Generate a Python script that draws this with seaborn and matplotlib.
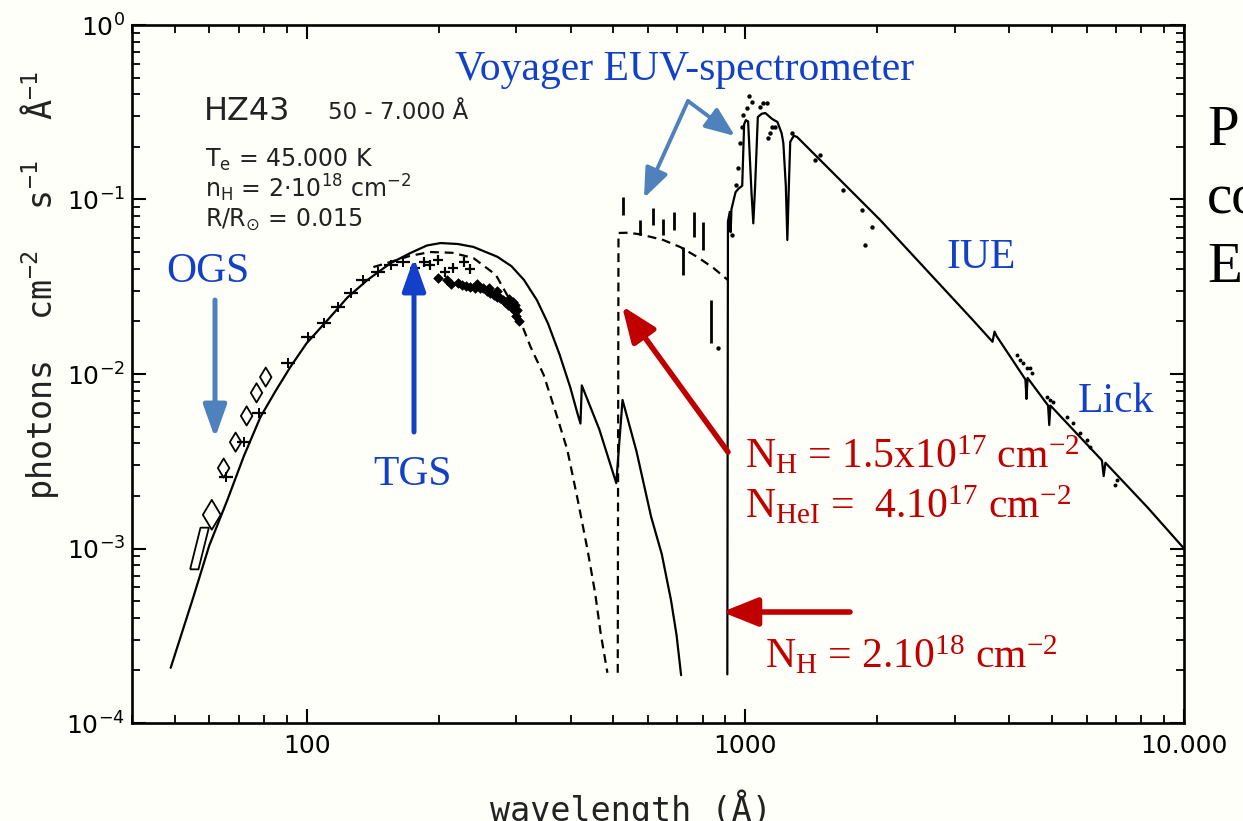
import matplotlib
matplotlib.use("Agg")
import matplotlib.pyplot as plt
import seaborn as sns
import pandas as pd
from matplotlib.patches import FancyArrowPatch
from matplotlib.ticker import FixedLocator, FixedFormatter, LogLocator, NullFormatter

# ---------------- data ----------------
# solid model, short-wavelength part (Angstrom, photons cm-2 s-1 A-1)
solid_euv_wl = [49, 55.2, 60, 66, 72, 78.5, 85, 91.9, 100, 111.7, 124, 137.7,
                155, 172.6, 188, 202, 221, 240, 272, 293, 313, 335, 355, 377,
                399, 414, 421, 424, 465, 508, 525, 565, 610, 645, 677, 697, 714]
solid_euv_f = [2.07e-4, 5.27e-4, 1.04e-3, 1.9e-3, 3.4e-3, 5.67e-3, 8.0e-3, 1.10e-2,
               1.5e-2, 2.04e-2, 2.75e-2, 3.46e-2, 4.3e-2, 4.94e-2, 5.45e-2, 5.63e-2,
               5.56e-2, 5.35e-2, 4.7e-2, 4.15e-2, 3.46e-2, 2.65e-2, 1.95e-2, 1.3e-2,
               8.4e-3, 6.0e-3, 5.2e-3, 8.6e-3, 4.8e-3, 2.37e-3, 7.1e-3, 3.6e-3,
               1.52e-3, 9.3e-4, 5.07e-4, 3.2e-4, 1.88e-4]

# solid model, long-wavelength part
solid_uv_wl = [910, 913, 922, 926, 930, 950, 964, 984, 994, 1003, 1015, 1033, 1043,
               1053, 1068, 1090, 1111, 1150, 1184, 1210, 1221, 1237, 1247, 1257,
               1266, 1290, 1313, 2030, 3300, 3660, 3700, 3740, 4350, 4375, 4400,
               4900, 4930, 4960, 6500, 6560, 6620, 8240, 10000]
solid_uv_f = [1.9e-4, 7.5e-2, 8.5e-2, 6.5e-2, 8.8e-2, 0.11, 0.115, 0.12, 0.27, 0.285,
              0.28, 0.11, 0.073, 0.12, 0.297, 0.31, 0.313, 0.29, 0.278, 0.24, 0.211,
              0.12, 0.0586, 0.12, 0.214, 0.232, 0.228, 0.0763, 0.0204, 0.0153,
              0.0175, 0.0165, 0.0093, 0.0072, 0.0095, 0.0066, 0.0051, 0.0066,
              0.0032, 0.0026, 0.0031, 0.00173, 0.00100]

# dashed model (N_H = 1.5e17, N_HeI = 4e17)
dashed_a_wl = [142, 155, 172, 191, 215, 240, 270, 302, 324, 347, 370, 393, 415,
               437, 455, 468, 478, 485]
dashed_a_f = [4.1e-2, 4.38e-2, 4.75e-2, 5.0e-2, 4.95e-2, 4.62e-2, 3.7e-2, 2.24e-2,
              1.43e-2, 9.9e-3, 6.0e-3, 3.67e-3, 1.9e-3, 9.8e-4, 5.5e-4, 3.28e-4,
              2.4e-4, 1.94e-4]
dashed_b_wl = [512, 514, 540, 570, 610, 650, 711, 778, 846, 912]
dashed_b_f = [1.94e-4, 6.43e-2, 6.45e-2, 6.34e-2, 6.1e-2, 5.86e-2, 5.34e-2,
              4.68e-2, 4.05e-2, 3.46e-2]

# OGS (open diamonds) and the large OGS error box
ogs_wl = [80.7, 76.9, 73.0, 68.9, 64.7, 60.8]
ogs_f = [9.6e-3, 7.8e-3, 5.75e-3, 4.07e-3, 2.89e-3, 1.56e-3]
ogs_box_wl = [57.0]
ogs_box_f = [1.0e-3]

# grating points with error bars along the rising flank
flank_wl = [65.4, 71.9, 77.7, 90.6, 100.5, 109.3, 117.7, 126, 134.8, 145.3, 155.4, 166.3]
flank_f = [2.57e-3, 4.07e-3, 5.98e-3, 1.16e-2, 1.63e-2, 1.96e-2, 2.42e-2, 2.91e-2,
           3.46e-2, 3.84e-2, 4.21e-2, 4.38e-2]

# TGS points
tgs_plus_wl = [177, 185, 191, 199, 207, 216, 228, 236]
tgs_plus_f = [4.05e-2, 4.38e-2, 4.21e-2, 4.5e-2, 3.84e-2, 4.05e-2, 4.38e-2, 4.0e-2]
tgs_band_wl = [199, 209, 213, 221, 226, 231, 236, 242, 245, 248, 253, 258, 260, 262,
               267, 271, 272, 276, 281, 284, 288, 290, 292, 296, 296, 298, 299, 300,
               302, 305]
tgs_band_f = [3.55e-2, 3.46e-2, 3.3e-2, 3.32e-2, 3.25e-2, 3.18e-2, 3.15e-2, 3.12e-2,
              3.3e-2, 3.1e-2, 3.11e-2, 2.98e-2, 3.1e-2, 2.92e-2, 2.84e-2, 2.78e-2,
              3.0e-2, 2.72e-2, 2.65e-2, 2.58e-2, 2.5e-2, 2.7e-2, 2.42e-2, 2.38e-2,
              2.6e-2, 2.5e-2, 2.3e-2, 2.15e-2, 2.33e-2, 2.0e-2]

# Voyager EUV spectrometer bars
voy_wl = [527, 574, 617, 650, 689, 723, 762, 802, 837]
voy_lo = [0.0815, 0.0626, 0.0718, 0.0626, 0.0669, 0.0369, 0.061, 0.0514, 0.0151]
voy_hi = [0.1036, 0.0763, 0.0894, 0.0776, 0.0848, 0.0534, 0.0848, 0.0743, 0.0265]

# IUE / Voyager dots
iue_wl = [868, 934, 954, 964, 974, 984, 989, 1011, 1021, 1038, 1081, 1099, 1122,
          1128, 1140, 1152, 1169, 1279, 1443, 1482, 1672, 1847, 1876, 1945]
iue_f = [0.0141, 0.0626, 0.121, 0.152, 0.211, 0.260, 0.305, 0.334, 0.392, 0.362,
         0.339, 0.357, 0.357, 0.225, 0.240, 0.260, 0.260, 0.240, 0.168, 0.180,
         0.113, 0.0871, 0.0549, 0.0696]

# Lick dots
lick_wl = [4165, 4230, 4296, 4387, 4457, 4503, 4872, 4950, 5030, 5410, 5585, 5794,
           6010, 6105, 6963, 7036]
lick_f = [0.01285, 0.0120, 0.01156, 0.0108, 0.0108, 0.01013, 0.00738, 0.0071,
          0.00691, 0.00567, 0.00524, 0.00459, 0.00419, 0.00382, 0.00231, 0.00247]

y_ticks = [1e-4, 1e-3, 1e-2, 1e-1, 1e0]
y_ticklabels = [r"$10^{-4}$", r"$10^{-3}$", r"$10^{-2}$", r"$10^{-1}$", r"$10^{0}$"]
x_ticks = [100, 1000, 10000]
x_ticklabels = ["100", "1000", "10.000"]

# ---------------- style ----------------
sns.set_theme(style="ticks")
plt.rcParams["font.family"] = ["DejaVu Sans"]
plt.rcParams["mathtext.default"] = "regular"
plt.rcParams["text.color"] = "black"
plt.rcParams["xtick.color"] = "black"
plt.rcParams["ytick.color"] = "black"
plt.rcParams["xtick.labelcolor"] = "black"
plt.rcParams["ytick.labelcolor"] = "black"

W, H = 1243, 821
BG = "#fffffa"
fig = plt.figure(figsize=(W / 100, H / 100), dpi=100, facecolor=BG)
ax = fig.add_axes([132 / W, 1 - 723 / H, (1184 - 132) / W, (723 - 25) / H])
ax.set_facecolor(BG)
ax.set_xscale("log")
ax.set_yscale("log")


def fx(px):
    return px / W


def fy(py):
    return 1 - py / H


LW = 1.6
sns.lineplot(x=solid_euv_wl, y=solid_euv_f, sort=False, estimator=None,
             color="black", lw=LW, ax=ax)
sns.lineplot(x=solid_uv_wl, y=solid_uv_f, sort=False, estimator=None,
             color="black", lw=LW, ax=ax)
sns.lineplot(x=dashed_a_wl, y=dashed_a_f, sort=False, estimator=None,
             color="black", lw=LW, linestyle=(0, (4, 2.6)), ax=ax)
sns.lineplot(x=dashed_b_wl, y=dashed_b_f, sort=False, estimator=None,
             color="black", lw=LW, linestyle=(0, (4, 2.6)), ax=ax)

# OGS diamonds
ogs_sizes = [95, 95, 95, 95, 95, 230]
sns.scatterplot(x=ogs_wl, y=ogs_f, marker="d", s=ogs_sizes, color="black",
                facecolor="none", edgecolor="black", linewidth=1.3, ax=ax, zorder=4,
                legend=False)
box_marker = [(-0.45, -1.0), (-0.05, -1.0), (0.45, 1.0), (0.05, 1.0), (-0.45, -1.0)]
sns.scatterplot(x=ogs_box_wl, y=ogs_box_f, marker=box_marker, s=900, color="black",
                facecolor="none", edgecolor="black", linewidth=1.3, ax=ax, zorder=4)

# flank error marks
sns.scatterplot(x=flank_wl, y=flank_f, marker="_", s=110, color="black",
                linewidth=1.6, ax=ax, zorder=4)
sns.scatterplot(x=flank_wl, y=flank_f, marker="|", s=45, color="black",
                linewidth=1.4, ax=ax, zorder=4)

# TGS
sns.scatterplot(x=tgs_plus_wl, y=tgs_plus_f, marker="+", s=60, color="black",
                linewidth=1.6, ax=ax, zorder=4)
sns.scatterplot(x=tgs_band_wl, y=tgs_band_f, marker="D", s=24, color="black",
                edgecolor="black", linewidth=0.5, ax=ax, zorder=4)

# Voyager bars
ax.vlines(voy_wl, voy_lo, voy_hi, color="black", lw=2.0, zorder=4)

# dots
sns.scatterplot(x=iue_wl, y=iue_f, marker="o", s=10, color="black",
                edgecolor="black", linewidth=0, ax=ax, zorder=4)
sns.scatterplot(x=lick_wl, y=lick_f, marker="o", s=8, color="black",
                edgecolor="black", linewidth=0, ax=ax, zorder=4)

# axes
ax.set_xlim(40, 10000)
ax.set_ylim(1e-4, 1)
ax.xaxis.set_major_locator(FixedLocator(x_ticks))
ax.xaxis.set_major_formatter(FixedFormatter(x_ticklabels))
ax.xaxis.set_minor_locator(LogLocator(base=10, subs=range(2, 10), numticks=20))
ax.xaxis.set_minor_formatter(NullFormatter())
ax.yaxis.set_major_locator(FixedLocator(y_ticks))
ax.yaxis.set_major_formatter(FixedFormatter(y_ticklabels))
ax.yaxis.set_minor_locator(LogLocator(base=10, subs=range(2, 10), numticks=20))
ax.yaxis.set_minor_formatter(NullFormatter())
ax.tick_params(which="major", direction="in", length=10, width=1.5, top=True,
               right=True, labelsize=18, colors="black")
ax.tick_params(which="minor", direction="in", length=6, width=1.3, top=True,
               right=True)
ax.tick_params(axis="x", which="major", pad=8)
ax.tick_params(axis="y", which="major", pad=5)
for s in ax.spines.values():
    s.set_linewidth(1.9)
    s.set_color("black")
ax.set_xlabel("")
ax.set_ylabel("")

# axis titles (scan font, letter-spaced)
fig.text(fx(40), fy(285), r"photons  cm$^{-2}$  s$^{-1}$  Å$^{-1}$", rotation=90,
         ha="center", va="center", fontsize=24, family="DejaVu Sans Mono",
         color="#222222")
fig.text(fx(631), fy(821), "wavelength (Å)", ha="center", va="baseline",
         fontsize=24, family="DejaVu Sans Mono", color="#222222")

# inset text
fig.text(fx(204), fy(120), "HZ43", fontsize=23, va="baseline", ha="left",
         color="#222222")
fig.text(fx(328), fy(119), "50 - 7.000 Å", fontsize=16.5, va="baseline", ha="left",
         color="#222222")
fig.text(fx(205), fy(167), r"T$_{e}$ = 45.000 K", fontsize=17, va="baseline",
         color="#222222")
fig.text(fx(205), fy(197), r"n$_{H}$ = 2$\cdot$10$^{18}$ cm$^{-2}$", fontsize=17,
         va="baseline", color="#222222")
fig.text(fx(205), fy(227), r"R/R$_{\odot}$ = 0.015", fontsize=17, va="baseline",
         color="#222222")

# blue labels
BLUE = "#1240c8"
STEEL = "#4f81bd"
SERIF = "Liberation Serif"
for txt, x, y in [("OGS", 208, 282), ("TGS", 413, 485), ("Voyager EUV-spectrometer", 685, 80),
                  ("IUE", 981, 268), ("Lick", 1116, 412)]:
    fig.text(fx(x), fy(y), txt, color=BLUE, fontsize=30, family=SERIF,
             ha="center", va="baseline")

# red labels
RED = "#c00000"
fig.text(fx(745), fy(468), r"N$_{H}$ = 1.5x10$^{17}$ cm$^{-2}$", color=RED,
         fontsize=30, family=SERIF, va="baseline")
fig.text(fx(745), fy(518), r"N$_{HeI}$ =  4.10$^{17}$ cm$^{-2}$", color=RED,
         fontsize=30, family=SERIF, va="baseline")
fig.text(fx(765), fy(668), r"N$_{H}$ = 2.10$^{18}$ cm$^{-2}$", color=RED,
         fontsize=30, family=SERIF, va="baseline")

# clipped slide text at right
for txt, y in [("P", 145), ("co", 213), ("E", 282)]:
    fig.text(fx(1207), fy(y), txt, color="black", fontsize=41, family=SERIF,
             ha="left", va="baseline")


def arrow(p0, p1, color, lw=3.4, hl=0.9, hw=0.35, ms=22):
    a = FancyArrowPatch((fx(p0[0]), fy(p0[1])), (fx(p1[0]), fy(p1[1])),
                        transform=fig.transFigure,
                        arrowstyle=f"-|>,head_length={hl},head_width={hw}",
                        mutation_scale=ms, lw=lw, color=color,
                        shrinkA=0, shrinkB=0, zorder=5)
    fig.add_artist(a)


arrow((215, 300), (215, 438), STEEL, lw=3.6, hw=0.32)
arrow((414, 432), (414, 258), BLUE, lw=3.6, hw=0.32)
arrow((688, 101), (644, 198), STEEL, lw=2.8, hw=0.36, ms=20)
arrow((688, 101), (735, 136), STEEL, lw=2.8, hw=0.36, ms=20)
arrow((728, 452), (622, 306), RED, lw=4.0, hw=0.36, ms=24)
arrow((850, 612), (722, 612), RED, lw=4.0, hw=0.36, ms=24)

fig.savefig("out.png", dpi=100, facecolor=BG)
